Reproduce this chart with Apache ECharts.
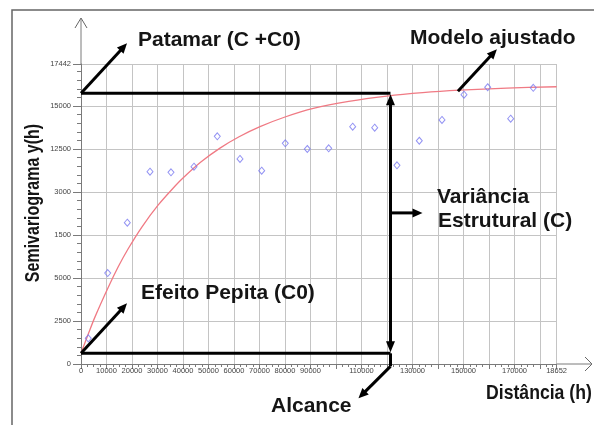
<!DOCTYPE html>
<html><head><meta charset="utf-8">
<script src="https://cdn.jsdelivr.net/npm/echarts@6/dist/echarts.min.js"></script>
<style>html,body{margin:0;padding:0;background:#fff}#c{width:597px;height:425px}</style>
</head><body><div id="c"></div>
<script>
// Experimental semivariogram points (distance h, semivariance)
const lagDistances = [2860, 10470, 18160, 27060, 35290, 44310, 53450, 62350, 70860, 80120, 88750, 97140, 106550, 115180, 123920, 132670, 141570, 150200, 159490, 168510, 177370];
const semivariance = [1490, 5290, 8215, 11180, 11146, 11470, 13240, 11920, 11240, 12830, 12500, 12540, 13800, 13740, 11550, 12980, 14190, 15660, 16090, 14260, 16060];
// Fitted model curve
const modelDistances = [0, 3000, 5500, 10700, 14600, 18500, 23800, 30300, 36900, 40100, 47000, 54500, 62000, 70200, 80000, 91100, 105000, 119900, 134000, 148600, 167000, 186520];
const modelValues = [620, 1800, 2740, 4460, 5650, 6700, 7950, 9250, 10350, 10830, 11740, 12550, 13210, 13800, 14360, 14860, 15270, 15580, 15780, 15920, 16040, 16120];
// Tick labels as printed
const yTickValues = [0, 2500, 5000, 7500, 10000, 12500, 15000, 17442];
const yTickLabels = ['0', '2500', '5000', '1500', '3000', '12500', '15000', '17442'];
const xTickValues = [0, 10000, 20000, 30000, 40000, 50000, 60000, 70000, 80000, 90000, 110000, 130000, 150000, 170000, 186520];
const xTickLabels = ['0', '10000', '20000', '30000', '40000', '50000', '60000', '70000', '80000', '90000', '110000', '130000', '150000', '170000', '18652'];
// Model parameters marked on the chart
const nuggetC0 = 620;
const sillCC0 = 15740;
const rangeA = 121370;
const xMax = 186520;
const yMax = 17442;

const chart = echarts.init(document.getElementById('c'), null, {renderer: 'canvas'});
const axisGrey = '#7a7a7a';
const gridGrey = '#c4c4c4';
const labelStyle = {fontFamily: 'Liberation Sans', fontSize: 7.5, color: '#444'};

chart.setOption({
  animation: false,
  backgroundColor: '#fff',
  grid: {left: 81, right: 40.4, top: 64, bottom: 61, outerBoundsMode: 'none', containLabel: false},
  xAxis: {
    type: 'value', min: 0, max: xMax, interval: 10000,
    axisLine: {show: true, lineStyle: {color: axisGrey, width: 1}},
    axisTick: {show: true, length: 5, lineStyle: {color: axisGrey}},
    minorTick: {show: true, splitNumber: 4, length: 3, lineStyle: {color: axisGrey}},
    splitLine: {show: true, lineStyle: {color: gridGrey, width: 1}},
    axisLabel: Object.assign({margin: 3, showMinLabel: true, showMaxLabel: true, hideOverlap: false,
      formatter: v => { const i = xTickValues.indexOf(v); return i >= 0 ? xTickLabels[i] : ''; }}, labelStyle)
  },
  yAxis: {
    type: 'value', min: 0, max: yMax, interval: 2500,
    axisLine: {show: true, lineStyle: {color: axisGrey, width: 1}},
    axisTick: {show: true, length: 8, lineStyle: {color: axisGrey}},
    minorTick: {show: true, splitNumber: 5, length: 4, lineStyle: {color: axisGrey}},
    splitLine: {show: true, lineStyle: {color: gridGrey, width: 1}},
    axisLabel: Object.assign({margin: 10, showMinLabel: true, showMaxLabel: true, hideOverlap: false,
      formatter: v => { const i = yTickValues.indexOf(v); return i >= 0 ? yTickLabels[i] : ''; }}, labelStyle)
  },
  series: [
    {
      type: 'line', name: 'Modelo', smooth: 0.3, symbol: 'none', z: 3,
      data: modelDistances.map((d, i) => [d, modelValues[i]]),
      lineStyle: {color: '#f07a84', width: 1.3}
    },
    {
      type: 'scatter', name: 'Experimental', symbol: 'diamond', symbolSize: [6, 7], z: 4,
      data: lagDistances.map((d, i) => [d, semivariance[i]]),
      itemStyle: {color: 'rgba(255,255,255,0)', borderColor: '#7878f0', borderWidth: 1}
    },
    {
      type: 'line', name: 'Patamar', symbol: 'none', z: 5,
      data: [[0, sillCC0], [rangeA, sillCC0]],
      lineStyle: {color: '#000', width: 3}
    },
    {
      type: 'line', name: 'Pepita', symbol: 'none', z: 5,
      data: [[0, nuggetC0], [rangeA, nuggetC0]],
      lineStyle: {color: '#000', width: 3}
    }
  ]
});

function px(x, y) { return chart.convertToPixel({gridIndex: 0}, [x, y]); }

const els = [];
function seg(x1, y1, x2, y2, w, color) {
  els.push({type: 'line', z: 50, shape: {x1, y1, x2, y2}, style: {stroke: color || '#000', lineWidth: w || 3}});
}
function head(x1, y1, x2, y2, len, wid) {
  const a = Math.atan2(y2 - y1, x2 - x1), c = Math.cos(a), s = Math.sin(a);
  const bx = x2 - len * c, by = y2 - len * s;
  els.push({type: 'polygon', z: 51, shape: {points: [[x2, y2], [bx - s * wid / 2, by + c * wid / 2], [bx + s * wid / 2, by - c * wid / 2]]}, style: {fill: '#000'}});
  return [bx + 2 * c, by + 2 * s];
}
function arrow(x1, y1, x2, y2) {
  const b = head(x1, y1, x2, y2, 10, 9);
  seg(x1, y1, b[0], b[1], 3);
}
function chevron(x, y, dir) {
  const st = {stroke: '#666', lineWidth: 1};
  if (dir === 'up') {
    els.push({type: 'polyline', z: 40, shape: {points: [[x - 6, y + 10], [x, y], [x + 6, y + 10]]}, style: Object.assign({fill: null}, st)});
  } else {
    els.push({type: 'polyline', z: 40, shape: {points: [[x - 7, y - 7], [x, y], [x - 7, y + 7]]}, style: Object.assign({fill: null}, st)});
  }
}
function txt(text, x, y, size, extra) {
  els.push(Object.assign({type: 'text', z: 60, x, y, style: {text, fill: '#151515', font: 'bold ' + size + 'px "Liberation Sans", Arial, sans-serif', align: 'left', verticalAlign: 'middle'}}, extra || {}));
}

const o = px(0, 0), topR = px(xMax, yMax);
const pSill = px(0, sillCC0), pNug = px(0, nuggetC0);
const rTop = px(rangeA, sillCC0), rBot = px(rangeA, nuggetC0);

// outer frame
els.push({type: 'polyline', z: 1, shape: {points: [[12, 430], [12, 10], [594, 10]]}, style: {stroke: '#666', lineWidth: 1.5, fill: null}});
// axis extensions with open arrow heads
seg(o[0], topR[1], o[0], 18, 1, axisGrey); chevron(o[0], 18, 'up');
seg(topR[0], o[1], 592, o[1], 1, axisGrey); chevron(592, o[1], 'right');

// range double arrow (vertical)
const bTop = head(rBot[0], rBot[1], rTop[0], rTop[1] + 1, 11, 9);
const bBot = head(rTop[0], rTop[1], rBot[0], rBot[1] - 1, 11, 9);
seg(rTop[0], bTop[1], rTop[0], bBot[1], 3);
// arrow to "Variância Estrutural (C)"
const midY = rTop[1] + (rBot[1] - rTop[1]) * 0.46;
arrow(rTop[0], midY, rTop[0] + 32, midY);
// arrow to "Alcance"
seg(rBot[0], rBot[1], rBot[0], rBot[1] + 13, 3);
arrow(rBot[0], rBot[1] + 13, rBot[0] - 32, rBot[1] + 45);
// arrow to "Patamar"
arrow(pSill[0], pSill[1], pSill[0] + 46, pSill[1] - 50);
// arrow to "Efeito Pepita"
arrow(pNug[0], pNug[1], pNug[0] + 46, pNug[1] - 50);
// arrow to "Modelo ajustado"
const m = px(148600, 15920);
arrow(m[0] - 2, m[1] + 1, m[0] + 37, m[1] - 41);

// labels
txt('Patamar (C +C0)', 138, 40, 21);
txt('Modelo ajustado', 410, 38, 21);
txt('Variância', 437, 197, 21);
txt('Estrutural (C)', 438, 221, 21);
txt('Efeito Pepita (C0)', 141, 293, 21);
txt('Alcance', 271, 406, 21);
txt('Distância (h)', 486, 393, 21, {scaleX: 0.84});
els.push({type: 'text', z: 60, x: 33, y: 203, rotation: Math.PI / 2, scaleX: 0.8,
  style: {text: 'Semivariograma y(h)', fill: '#151515', font: 'bold 20px "Liberation Sans", Arial, sans-serif', align: 'center', verticalAlign: 'middle'}});

chart.setOption({graphic: {elements: els}});
</script>
</body></html>
